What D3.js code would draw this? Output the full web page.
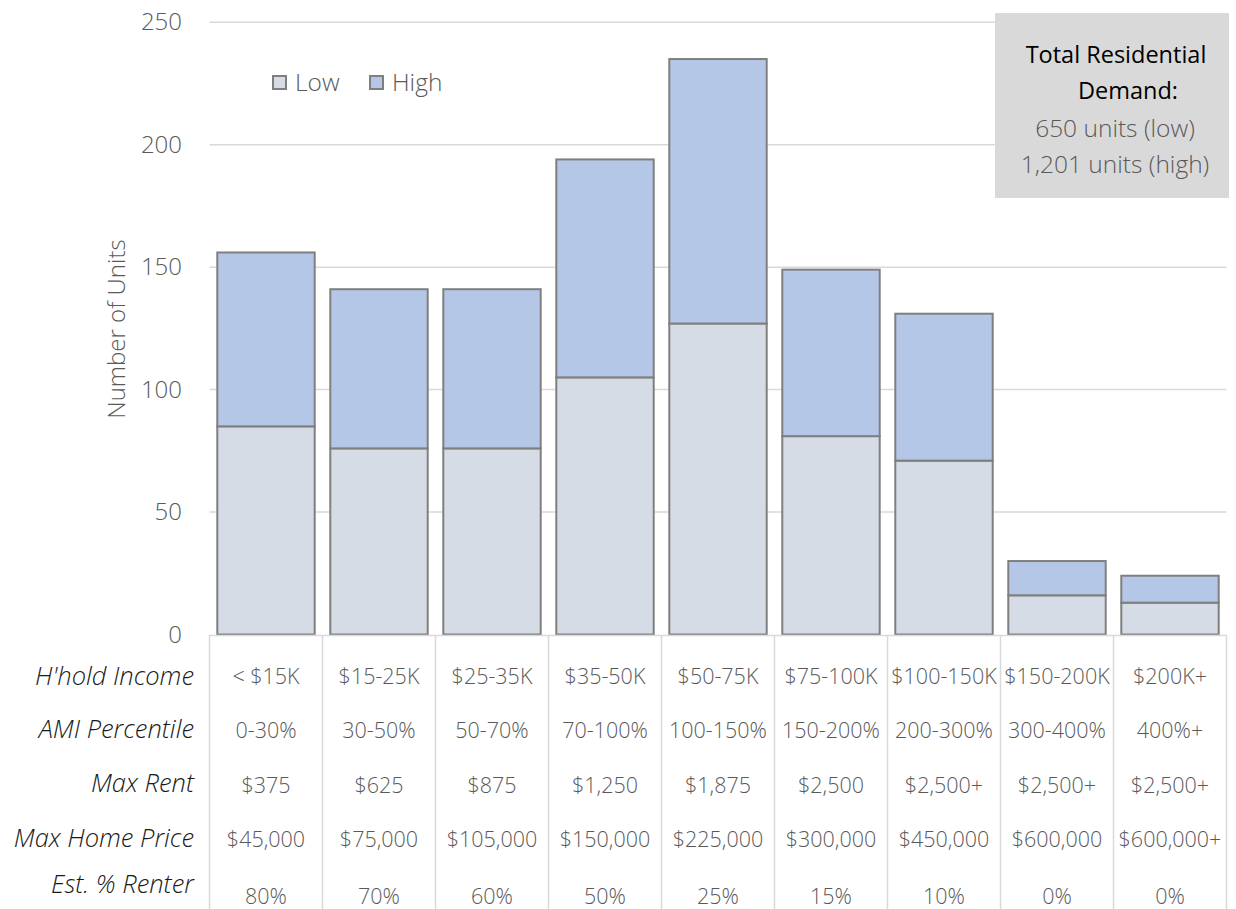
<!DOCTYPE html>
<html>
<head>
<meta charset="utf-8">
<script src="https://cdn.jsdelivr.net/npm/d3@7"></script>
<style>
  html, body { margin: 0; padding: 0; background: #fff; }
  svg { display: block; font-family: 'Open Sans', sans-serif; }
</style>
</head>
<body>
<svg id="chart" width="1236" height="909"></svg>
<script>
// Income bands and demand estimates (units)
const categories = ["< $15K", "$15-25K", "$25-35K", "$35-50K", "$50-75K", "$75-100K", "$100-150K", "$150-200K", "$200K+"];
const lowDemand  = [85, 76, 76, 105, 127, 81, 71, 16, 13];
const highDemand = [156, 141, 141, 194, 235, 149, 131, 30, 24];
const yTicks = [0, 50, 100, 150, 200, 250];

// Data table rows under the axis
const rowLabels = ["H'hold Income", "AMI Percentile", "Max Rent", "Max Home Price", "Est. % Renter"];
const amiPercentile = ["0-30%", "30-50%", "50-70%", "70-100%", "100-150%", "150-200%", "200-300%", "300-400%", "400%+"];
const maxRent = ["$375", "$625", "$875", "$1,250", "$1,875", "$2,500", "$2,500+", "$2,500+", "$2,500+"];
const maxHomePrice = ["$45,000", "$75,000", "$105,000", "$150,000", "$225,000", "$300,000", "$450,000", "$600,000", "$600,000+"];
const pctRenter = ["80%", "70%", "60%", "50%", "25%", "15%", "10%", "0%", "0%"];

const totalLines = ["Total Residential", "Demand:", "650 units (low)", "1,201 units (high)"];

const colLow = "#d6dce5", colHigh = "#b4c7e7", barStroke = "#7f7f7f";
const gridCol = "#d9d9d9", textGray = "#595959";

const svg = d3.select("#chart");
const plotLeft = 209.5, plotRight = 1226.5, plotTop = 22.3, plotBottom = 634.5;

const x = d3.scaleBand().domain(categories).range([plotLeft, plotRight]).paddingInner(0.138).paddingOuter(0.069);
const xCol = d3.scaleBand().domain(categories).range([plotLeft, plotRight]);
const y = d3.scaleLinear().domain([0, 250]).range([plotBottom, plotTop]);

// gridlines
svg.append("g").selectAll("line").data(yTicks.filter(d => d > 0)).join("line")
  .attr("x1", plotLeft).attr("x2", plotRight)
  .attr("y1", d => y(d)).attr("y2", d => y(d))
  .attr("stroke", gridCol).attr("stroke-width", 1.5);

// y axis labels
const yAxis = d3.axisLeft(y).tickValues(yTicks).tickSize(0).tickPadding(0);
const yg = svg.append("g").attr("transform", `translate(182,0)`).call(yAxis);
yg.select(".domain").remove();
yg.selectAll("text").attr("fill", textGray).attr("font-size", 24).attr("font-weight", 300)
  .attr("font-family", "'Open Sans', sans-serif");

// axis title
svg.append("text")
  .attr("transform", "translate(125,329) rotate(-90)")
  .attr("text-anchor", "middle")
  .attr("fill", textGray).attr("font-size", 24).attr("font-weight", 300)
  .text("Number of Units");

// stacked bars: low segment, then high remainder on top
const bars = svg.append("g");
bars.selectAll("rect.low").data(categories).join("rect").attr("class", "low")
  .attr("x", d => x(d)).attr("width", x.bandwidth())
  .attr("y", (d, i) => y(lowDemand[i])).attr("height", (d, i) => y(0) - y(lowDemand[i]))
  .attr("fill", colLow).attr("stroke", barStroke).attr("stroke-width", 2);
bars.selectAll("rect.high").data(categories).join("rect").attr("class", "high")
  .attr("x", d => x(d)).attr("width", x.bandwidth())
  .attr("y", (d, i) => y(highDemand[i])).attr("height", (d, i) => y(lowDemand[i]) - y(highDemand[i]))
  .attr("fill", colHigh).attr("stroke", barStroke).attr("stroke-width", 2);

// baseline / table top
svg.append("line").attr("x1", plotLeft).attr("x2", plotRight).attr("y1", 635.5).attr("y2", 635.5)
  .attr("stroke", gridCol).attr("stroke-width", 1.5);

// table column borders
const edges = categories.map(c => xCol(c)).concat([plotRight]);
svg.append("g").selectAll("line").data(edges).join("line")
  .attr("x1", d => d).attr("x2", d => d).attr("y1", 635).attr("y2", 909)
  .attr("stroke", gridCol).attr("stroke-width", 1.5);

// table rows
const rows = [categories, amiPercentile, maxRent, maxHomePrice, pctRenter];
const rowValueY = [676, 730, 785, 839, 896];
const rowLabelY = [676, 729, 783, 838, 884];

svg.append("g").selectAll("text").data(rowLabels).join("text")
  .attr("x", 194).attr("y", (d, i) => rowLabelY[i]).attr("dy", "0.35em")
  .attr("text-anchor", "end").attr("font-style", "italic").attr("font-weight", 300)
  .attr("font-size", 25.5).attr("fill", "#1a1a1a")
  .text(d => d);

rows.forEach((vals, r) => {
  svg.append("g").selectAll("text").data(vals).join("text")
    .attr("x", (d, i) => xCol(categories[i]) + xCol.bandwidth() / 2)
    .attr("y", rowValueY[r]).attr("dy", "0.35em")
    .attr("text-anchor", "middle").attr("font-weight", 300)
    .attr("font-size", 21.5).attr("fill", textGray)
    .text(d => d);
});

// legend
const legend = svg.append("g");
const legItems = [{name: "Low", color: colLow, x: 272}, {name: "High", color: colHigh, x: 369}];
legend.selectAll("rect").data(legItems).join("rect")
  .attr("x", d => d.x + 1).attr("y", 76).attr("width", 13).attr("height", 13)
  .attr("fill", d => d.color).attr("stroke", barStroke).attr("stroke-width", 2);
legend.selectAll("text").data(legItems).join("text")
  .attr("x", d => d.x + 23).attr("y", 82).attr("dy", "0.35em")
  .attr("font-size", 24.5).attr("font-weight", 300).attr("fill", textGray)
  .text(d => d.name);

// totals box
svg.append("rect").attr("x", 995).attr("y", 13).attr("width", 234).attr("height", 185).attr("fill", "#d9d9d9");
const boxCx = [1116, 1128, 1115, 1115];
const boxY = [63, 99, 137, 173];
svg.append("g").selectAll("text").data(totalLines).join("text")
  .attr("x", (d, i) => boxCx[i]).attr("y", (d, i) => boxY[i])
  .attr("text-anchor", "middle")
  .attr("font-size", (d, i) => i < 2 ? 23.5 : 24.5)
  .attr("font-weight", (d, i) => i < 2 ? 400 : 300)
  .attr("fill", (d, i) => i < 2 ? "#000" : textGray)
  .text(d => d);
</script>
</body>
</html>
